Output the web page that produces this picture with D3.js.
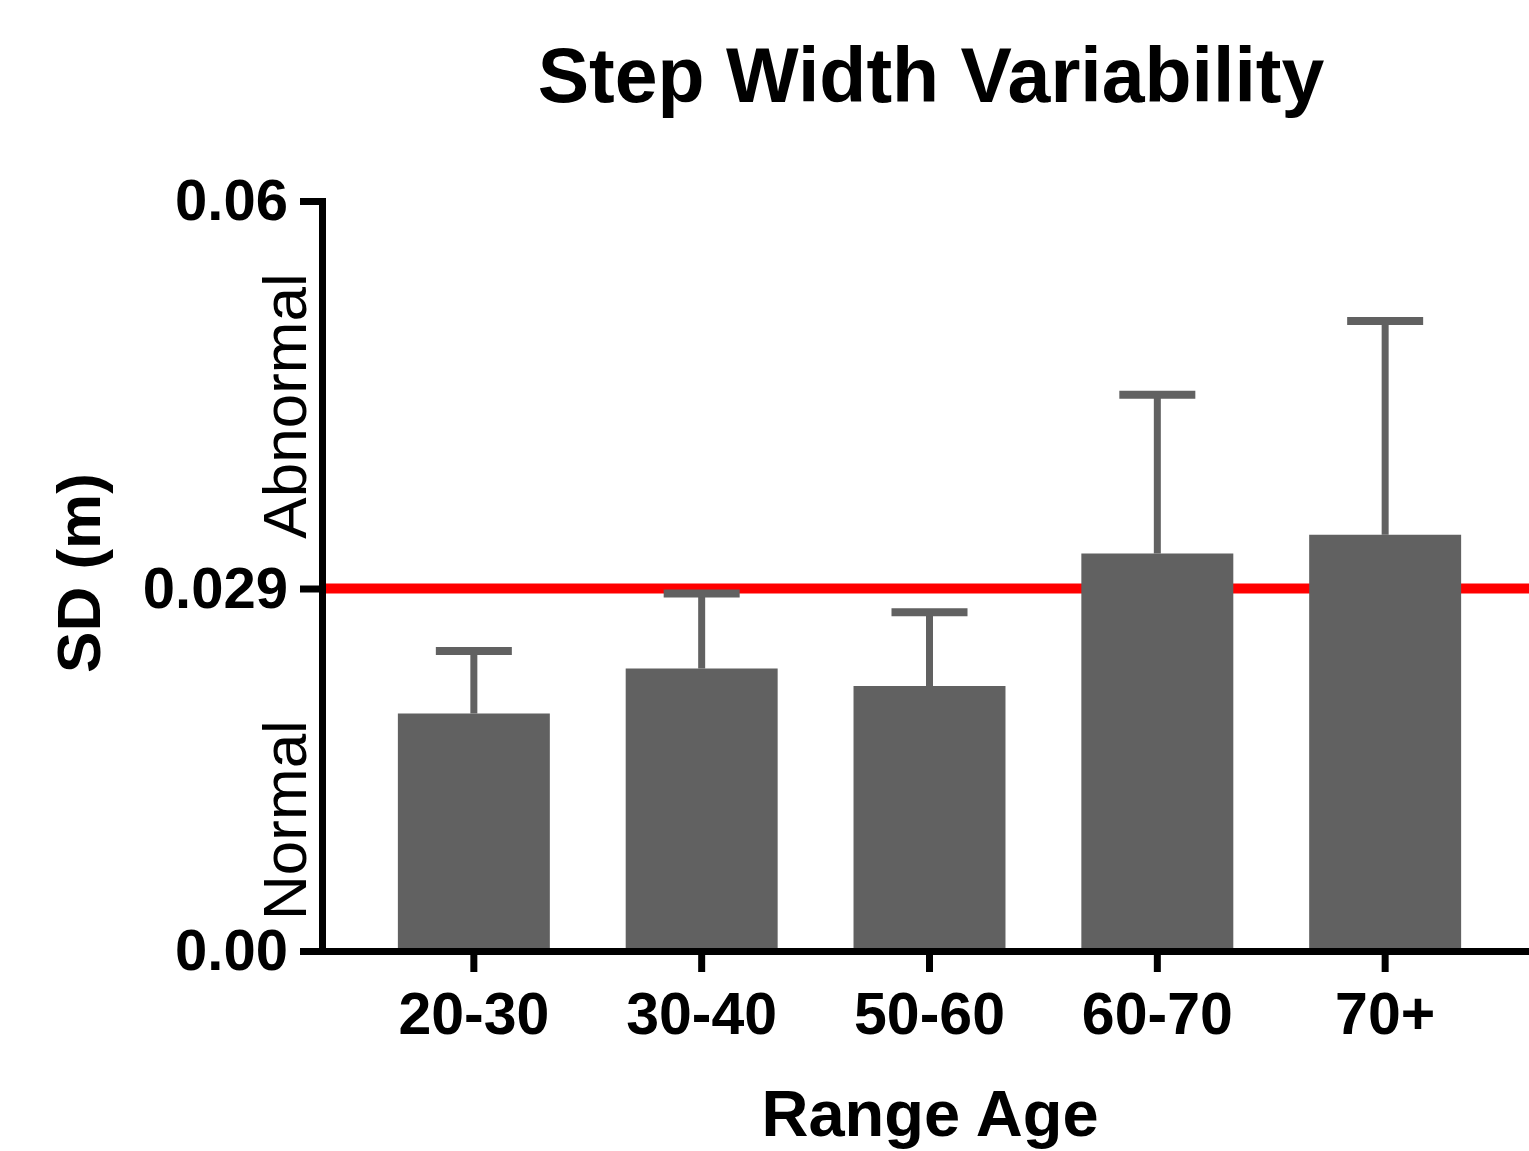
<!DOCTYPE html>
<html>
<head>
<meta charset="utf-8">
<script src="https://cdn.jsdelivr.net/npm/d3@7"></script>
<style>
  html, body { margin: 0; padding: 0; background: #fff; }
  svg { display: block; }
  text { font-family: "Liberation Sans", Arial, Helvetica, sans-serif; }
</style>
</head>
<body>
<svg id="chart" width="1529" height="1151"></svg>
<script>
const categories = ["20-30", "30-40", "50-60", "60-70", "70+"];
const means = [0.0190, 0.0226, 0.0212, 0.0318, 0.0333];
const upperErr = [0.0240, 0.0286, 0.0271, 0.0445, 0.0504];
const yTickValues = [0, 0.029, 0.06];
const yTickLabels = ["0.00", "0.029", "0.06"];
const thresholdValue = 0.029;
const title = "Step Width Variability";
const xTitle = "Range Age";
const yTitle = "SD (m)";
const zoneLabels = ["Abnormal", "Normal"];

const svg = d3.select("#chart");
const x = d3.scaleBand().domain(categories).range([322, 1537]).padding(0.333);
const y = d3.scaleLinear().domain([0, 0.06]).range([951, 201]);

const barColor = "#616161";

// threshold line (behind bars)
svg.append("line")
  .attr("x1", 322).attr("x2", 1529)
  .attr("y1", y(thresholdValue)).attr("y2", y(thresholdValue))
  .attr("stroke", "#ff0000").attr("stroke-width", 10);

// error bars
const eb = svg.append("g");
categories.forEach((c, i) => {
  const cx = x(c) + x.bandwidth() / 2;
  eb.append("line")
    .attr("x1", cx).attr("x2", cx)
    .attr("y1", y(means[i])).attr("y2", y(upperErr[i]))
    .attr("stroke", barColor).attr("stroke-width", 7);
  eb.append("line")
    .attr("x1", cx - 38).attr("x2", cx + 38)
    .attr("y1", y(upperErr[i])).attr("y2", y(upperErr[i]))
    .attr("stroke", barColor).attr("stroke-width", 8);
});

// bars
svg.append("g").selectAll("rect").data(categories).join("rect")
  .attr("x", d => x(d))
  .attr("width", x.bandwidth())
  .attr("y", (d, i) => y(means[i]))
  .attr("height", (d, i) => y(0) - y(means[i]))
  .attr("fill", barColor);

// y axis
const yAxis = svg.append("g").attr("transform", "translate(322,0)")
  .call(d3.axisLeft(y).tickValues(yTickValues)
    .tickFormat((d, i) => yTickLabels[i]).tickSize(22).tickSizeOuter(0).tickPadding(12));
yAxis.select(".domain").attr("stroke", "#000").attr("stroke-width", 7).attr("stroke-linecap", "square");
yAxis.selectAll(".tick line").attr("stroke", "#000").attr("stroke-width", 7);
yAxis.selectAll(".tick text")
  .attr("font-size", 58).attr("font-weight", "bold").attr("fill", "#000")
  .attr("font-family", "Liberation Sans, Arial, sans-serif");

// x axis
const xAxis = svg.append("g").attr("transform", "translate(0," + y(0) + ")")
  .call(d3.axisBottom(x).tickSize(21).tickSizeOuter(0).tickPadding(20));
xAxis.select(".domain").attr("stroke", "#000").attr("stroke-width", 7);
xAxis.selectAll(".tick line").attr("stroke", "#000").attr("stroke-width", 7);
xAxis.selectAll(".tick text")
  .attr("font-size", 59).attr("font-weight", "bold").attr("fill", "#000")
  .attr("font-family", "Liberation Sans, Arial, sans-serif");

// title
svg.append("text").attr("x", 931).attr("y", 102)
  .attr("text-anchor", "middle").attr("font-size", 77).attr("font-weight", "bold")
  .text(title);

// x title
svg.append("text").attr("x", 930).attr("y", 1136)
  .attr("text-anchor", "middle").attr("font-size", 65).attr("font-weight", "bold")
  .text(xTitle);

// y title
svg.append("text").attr("transform", "translate(100,573) rotate(-90)")
  .attr("text-anchor", "middle").attr("font-size", 62).attr("font-weight", "bold")
  .text(yTitle);

// zone labels
svg.append("text").attr("transform", "translate(306,406) rotate(-90)")
  .attr("text-anchor", "middle").attr("font-size", 62)
  .text(zoneLabels[0]);
svg.append("text").attr("transform", "translate(306,820) rotate(-90)")
  .attr("text-anchor", "middle").attr("font-size", 62)
  .text(zoneLabels[1]);
</script>
</body>
</html>
